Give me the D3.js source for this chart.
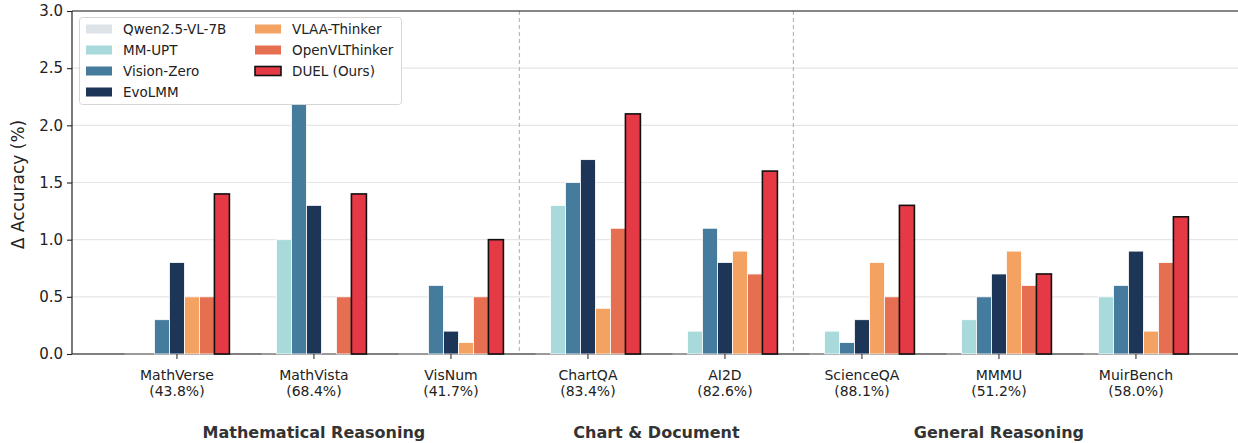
<!DOCTYPE html>
<html>
<head>
<meta charset="utf-8">
<script src="https://cdn.jsdelivr.net/npm/d3@7"></script>
<style>
  html, body { margin: 0; padding: 0; background: #fff; }
  svg { display: block; font-family: "DejaVu Sans", sans-serif; }
</style>
</head>
<body>
<svg id="chart" width="1238" height="443"></svg>
<script>
// Benchmarks and their base-model accuracy
const benchmarks = ["MathVerse", "MathVista", "VisNum", "ChartQA", "AI2D", "ScienceQA", "MMMU", "MuirBench"];
const baseAcc = ["43.8%", "68.4%", "41.7%", "83.4%", "82.6%", "88.1%", "51.2%", "58.0%"];

// Methods (legend order) and colours
const methods = ["Qwen2.5-VL-7B", "MM-UPT", "Vision-Zero", "EvoLMM", "VLAA-Thinker", "OpenVLThinker", "DUEL (Ours)"];
const colors = ["#dde3e8", "#a8dadc", "#457b9d", "#1d3557", "#f4a261", "#e76f51", "#e63946"];

// Δ accuracy (%) per method, one value per benchmark
const qwen        = [0, 0, 0, 0, 0, 0, 0, 0];
const mmUpt       = [0, 1.0, 0, 1.3, 0.2, 0.2, 0.3, 0.5];
const visionZero  = [0.3, 2.2, 0.6, 1.5, 1.1, 0.1, 0.5, 0.6];
const evoLmm      = [0.8, 1.3, 0.2, 1.7, 0.8, 0.3, 0.7, 0.9];
const vlaaThinker = [0.5, 0, 0.1, 0.4, 0.9, 0.8, 0.9, 0.2];
const openVl      = [0.5, 0.5, 0.5, 1.1, 0.7, 0.5, 0.6, 0.8];
const duel        = [1.4, 1.4, 1.0, 2.1, 1.6, 1.3, 0.7, 1.2];
const seriesValues = [qwen, mmUpt, visionZero, evoLmm, vlaaThinker, openVl, duel];

// Benchmark groups
const groups = [
  { name: "Mathematical Reasoning", from: 0, to: 2 },
  { name: "Chart & Document", from: 3, to: 4 },
  { name: "General Reasoning", from: 5, to: 7 }
];

const yTicks = [0, 0.5, 1.0, 1.5, 2.0, 2.5, 3.0];

const svg = d3.select("#chart");
const plot = { left: 72, right: 1238, top: 11, bottom: 354 };

const x = d3.scaleLinear().domain([-0.766, 7.745]).range([plot.left, plot.right]);
const y = d3.scaleLinear().domain([0, 3]).range([plot.bottom, plot.top]);
const step = x(1) - x(0);
const inner = d3.scaleBand().domain(d3.range(methods.length))
  .range([-0.383 * step, 0.383 * step]).padding(0);

// Horizontal grid
svg.append("g").selectAll("line").data(yTicks.filter(t => t > 0 && t < 3)).join("line")
  .attr("x1", plot.left).attr("x2", plot.right)
  .attr("y1", d => y(d)).attr("y2", d => y(d))
  .attr("stroke", "#e6e6e6").attr("stroke-width", 1.2);

// Group separators
const seps = [2.5, 4.5];
svg.append("g").selectAll("line").data(seps).join("line")
  .attr("x1", d => x(d)).attr("x2", d => x(d))
  .attr("y1", plot.top).attr("y2", plot.bottom)
  .attr("stroke", "#b8b8b8").attr("stroke-width", 1.2).attr("stroke-dasharray", "4,3");

// Zero line
svg.append("line")
  .attr("x1", plot.left).attr("x2", plot.right)
  .attr("y1", y(0)).attr("y2", y(0))
  .attr("stroke", "#555").attr("stroke-width", 1.3);

// Bars
const barData = [];
seriesValues.forEach((vals, m) => vals.forEach((v, b) => barData.push({ m, b, v })));
const bw = inner.bandwidth();

svg.append("g").selectAll("rect").data(barData.filter(d => d.v > 0)).join("rect")
  .attr("x", d => x(d.b) + inner(d.m))
  .attr("width", bw)
  .attr("y", d => y(d.v))
  .attr("height", d => y(0) - y(d.v))
  .attr("fill", d => colors[d.m])
  .attr("stroke", d => d.m === methods.length - 1 ? "#111" : "#fff")
  .attr("stroke-width", d => d.m === methods.length - 1 ? 1.6 : 0.8);

// Zero-height bars show as a lighter stroke on the baseline
svg.append("g").selectAll("line").data(barData.filter(d => d.v === 0)).join("line")
  .attr("x1", d => x(d.b) + inner(d.m))
  .attr("x2", d => x(d.b) + inner(d.m) + bw)
  .attr("y1", y(0)).attr("y2", y(0))
  .attr("stroke", "#ababab").attr("stroke-width", 1.3);

// Spines
svg.append("line").attr("x1", plot.left).attr("x2", plot.right)
  .attr("y1", plot.top).attr("y2", plot.top).attr("stroke", "#111").attr("stroke-width", 1.2);
svg.append("line").attr("x1", plot.left).attr("x2", plot.left)
  .attr("y1", plot.top).attr("y2", plot.bottom).attr("stroke", "#222").attr("stroke-width", 1.2);

// Y axis
const yAxis = svg.append("g").attr("transform", `translate(${plot.left},0)`)
  .call(d3.axisLeft(y).tickValues(yTicks).tickFormat(d3.format(".1f")).tickSize(5).tickPadding(4));
yAxis.select(".domain").remove();
yAxis.selectAll(".tick line").attr("stroke", "#222").attr("stroke-width", 1.1);
yAxis.selectAll(".tick text").attr("font-size", 15).attr("fill", "#222")
  .attr("font-family", "DejaVu Sans, sans-serif");

svg.append("text")
  .attr("transform", `translate(24,${(plot.top + plot.bottom) / 2 + 2}) rotate(-90)`)
  .attr("text-anchor", "middle").attr("font-size", 17).attr("fill", "#222")
  .text("Δ Accuracy (%)");

// X ticks and two-line labels
const xg = svg.append("g");
benchmarks.forEach((name, i) => {
  xg.append("line").attr("x1", x(i)).attr("x2", x(i))
    .attr("y1", plot.bottom).attr("y2", plot.bottom + 5)
    .attr("stroke", "#333").attr("stroke-width", 1.1);
  const t = xg.append("text").attr("text-anchor", "middle").attr("font-size", 14).attr("fill", "#222");
  t.append("tspan").attr("x", x(i)).attr("y", 380).text(name);
  t.append("tspan").attr("x", x(i)).attr("y", 396).text(`(${baseAcc[i]})`);
});

// Group labels
svg.append("g").selectAll("text").data(groups).join("text")
  .attr("x", d => x((d.from + d.to) / 2))
  .attr("y", 438)
  .attr("text-anchor", "middle")
  .attr("font-size", 16).attr("font-weight", "bold").attr("fill", "#333")
  .text(d => d.name);

// Legend
const lg = svg.append("g");
lg.append("rect").attr("x", 79.5).attr("y", 17.5).attr("width", 322).attr("height", 87)
  .attr("rx", 3).attr("fill", "#fff").attr("stroke", "#d6d6d6").attr("stroke-width", 1);
methods.forEach((m, i) => {
  const col = i < 4 ? 0 : 1;
  const row = i < 4 ? i : i - 4;
  const px = col === 0 ? 86 : 255;
  const cy = 29 + row * 21;
  lg.append("rect").attr("x", px).attr("y", cy - 4.5).attr("width", 26).attr("height", 9)
    .attr("fill", colors[i])
    .attr("stroke", i === methods.length - 1 ? "#111" : "none")
    .attr("stroke-width", 1.6);
  lg.append("text").attr("x", px + 37).attr("y", cy + 5)
    .attr("font-size", 13.5).attr("fill", "#222").text(m);
});
</script>
</body>
</html>
